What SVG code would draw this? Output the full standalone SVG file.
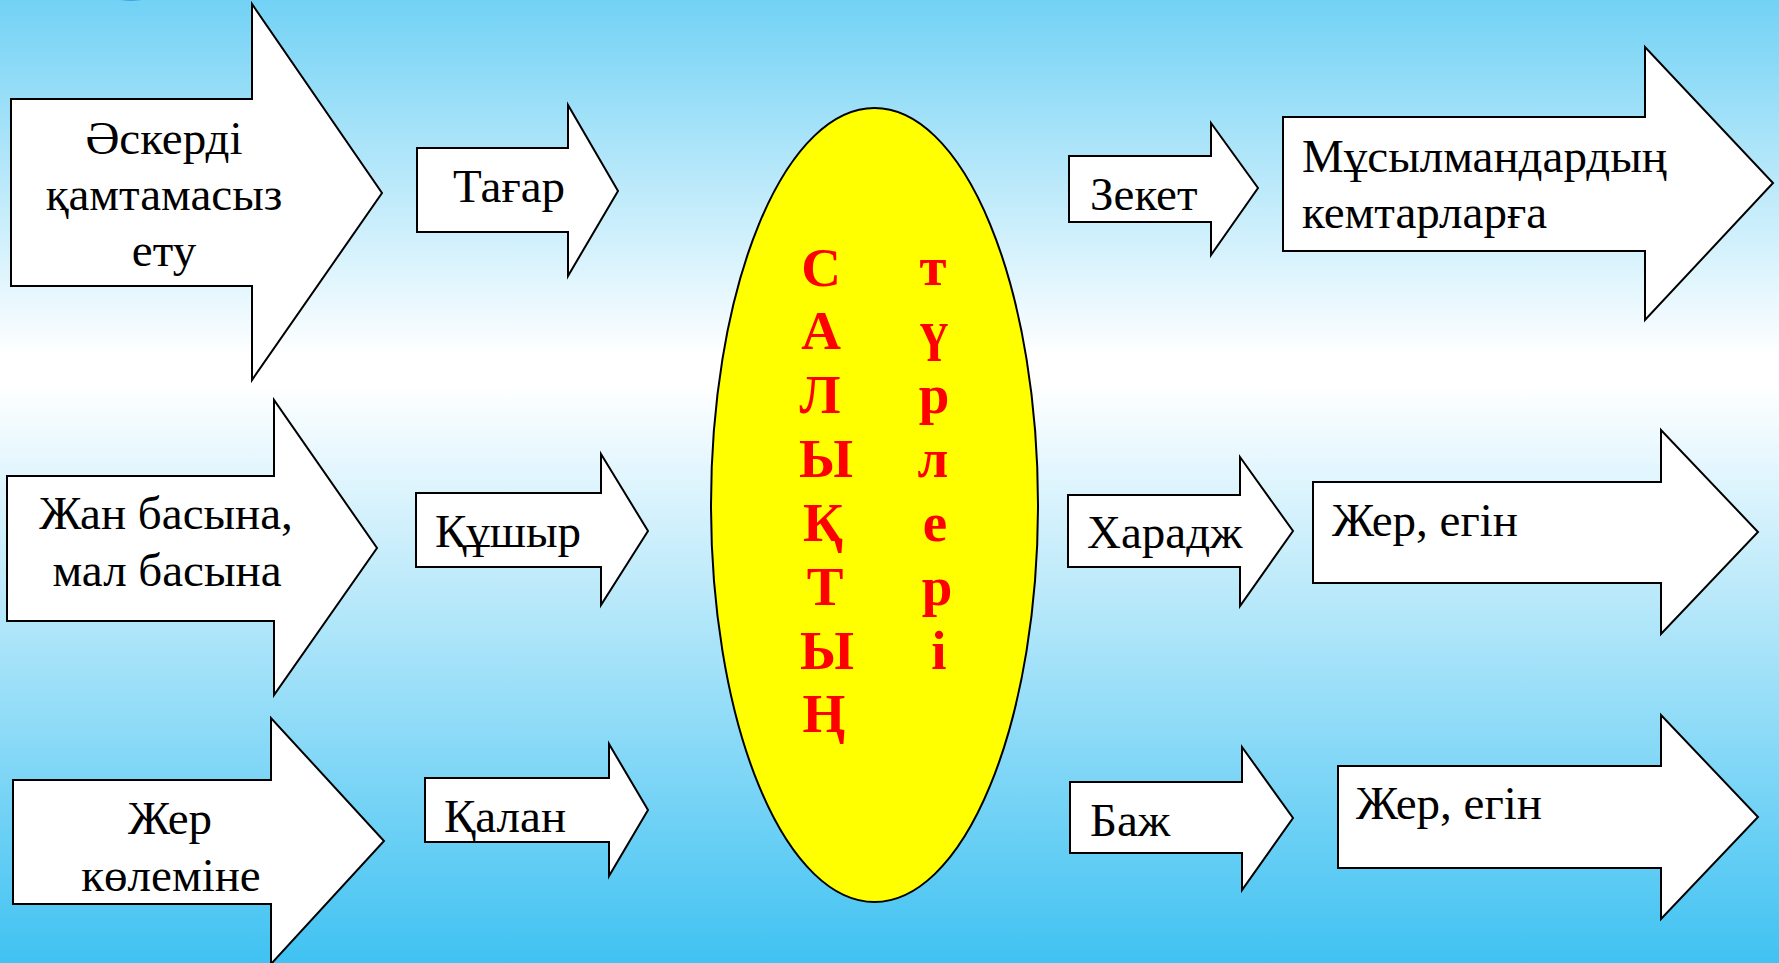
<svg xmlns="http://www.w3.org/2000/svg" width="1779" height="963" viewBox="0 0 1779 963">
<defs>
<linearGradient id="bg" x1="0" y1="0" x2="0" y2="1">
<stop offset="0" stop-color="#72d2f5"/>
<stop offset="0.37" stop-color="#ffffff"/>
<stop offset="0.40" stop-color="#ffffff"/>
<stop offset="1" stop-color="#40c2f2"/>
</linearGradient>
<style>
.ar{fill:#ffffff;stroke:#000000;stroke-width:2;stroke-linejoin:miter}
.t{font-family:"Liberation Serif","Times New Roman",serif;font-size:47px;fill:#000000}
.c{text-anchor:middle}
.red{font-family:"Liberation Serif","Times New Roman",serif;font-size:55px;font-weight:bold;fill:#ff0000;text-anchor:middle}
</style>
</defs>
<rect x="0" y="0" width="1779" height="963" fill="url(#bg)"/>
<ellipse cx="131" cy="-8" rx="22" ry="9" fill="#3aa6e6"/>
<g id="connectors"/>
<g id="n-askerdi">
<polygon class="ar" points="11,99 252,99 252,4 382,193 252,380 252,286 11,286"/>
<text class="t c" x="164" y="154">Әскерді</text>
<text class="t c" x="164" y="210">қамтамасыз</text>
<text class="t c" x="164" y="266">ету</text>
</g>
<g id="n-tagar">
<polygon class="ar" points="417,148 568,148 568,105 618,191 568,276 568,232 417,232"/>
<text class="t" x="453" y="202">Тағар</text>
</g>
<g id="n-jan">
<polygon class="ar" points="7,476 274,476 274,400 377,548 274,695 274,621 7,621"/>
<text class="t c" x="166" y="529">Жан басына,</text>
<text class="t c" x="167" y="586">мал басына</text>
</g>
<g id="n-kushyr">
<polygon class="ar" points="416,493 601,493 601,454 648,531 601,605 601,567 416,567"/>
<text class="t" x="435" y="547">Құшыр</text>
</g>
<g id="n-jer">
<polygon class="ar" points="13,780 271,780 271,718 384,841 271,964 271,904 13,904"/>
<text class="t c" x="170" y="834">Жер</text>
<text class="t c" x="171" y="891">көлеміне</text>
</g>
<g id="n-kalan">
<polygon class="ar" points="425,778 609,778 609,744 648,810 609,876 609,842 425,842"/>
<text class="t" x="444" y="832">Қалан</text>
</g>
<g id="n-center">
<ellipse cx="874.5" cy="505" rx="163.5" ry="397" fill="#ffff00" stroke="#000000" stroke-width="2"/>
<text class="red"><tspan x="821" y="286">С</tspan><tspan x="821" y="349">А</tspan><tspan x="820" y="413">Л</tspan><tspan x="826" y="477">Ы</tspan><tspan x="823" y="541">Қ</tspan><tspan x="825" y="605">Т</tspan><tspan x="827" y="669">Ы</tspan><tspan x="824" y="732">Ң</tspan></text>
<text class="red"><tspan x="933" y="285">т</tspan><tspan x="934" y="349">ү</tspan><tspan x="934" y="413">р</tspan><tspan x="933" y="477">л</tspan><tspan x="935" y="541">е</tspan><tspan x="937" y="605">р</tspan><tspan x="939" y="669">і</tspan></text>
</g>
<g id="n-zeket">
<polygon class="ar" points="1069,156 1211,156 1211,123 1258,188 1211,255 1211,222 1069,222"/>
<text class="t" x="1090" y="210">Зекет</text>
</g>
<g id="n-musylman">
<polygon class="ar" points="1283,117 1645,117 1645,47 1773,183 1645,320 1645,251 1283,251"/>
<text class="t" x="1302" y="172">Мұсылмандардың</text>
<text class="t" x="1302" y="228">кемтарларға</text>
</g>
<g id="n-haradj">
<polygon class="ar" points="1068,495 1240,495 1240,457 1293,531 1240,606 1240,567 1068,567"/>
<text class="t" x="1087" y="548">Харадж</text>
</g>
<g id="n-jer1">
<polygon class="ar" points="1313,482 1661,482 1661,430 1758,532 1661,634 1661,583 1313,583"/>
<text class="t" x="1332" y="536">Жер, егін</text>
</g>
<g id="n-baj">
<polygon class="ar" points="1070,782 1242,782 1242,747 1293,818 1242,890 1242,853 1070,853"/>
<text class="t" x="1090" y="836">Баж</text>
</g>
<g id="n-jer2">
<polygon class="ar" points="1338,766 1661,766 1661,715 1758,817 1661,919 1661,868 1338,868"/>
<text class="t" x="1356" y="819">Жер, егін</text>
</g>
</svg>
